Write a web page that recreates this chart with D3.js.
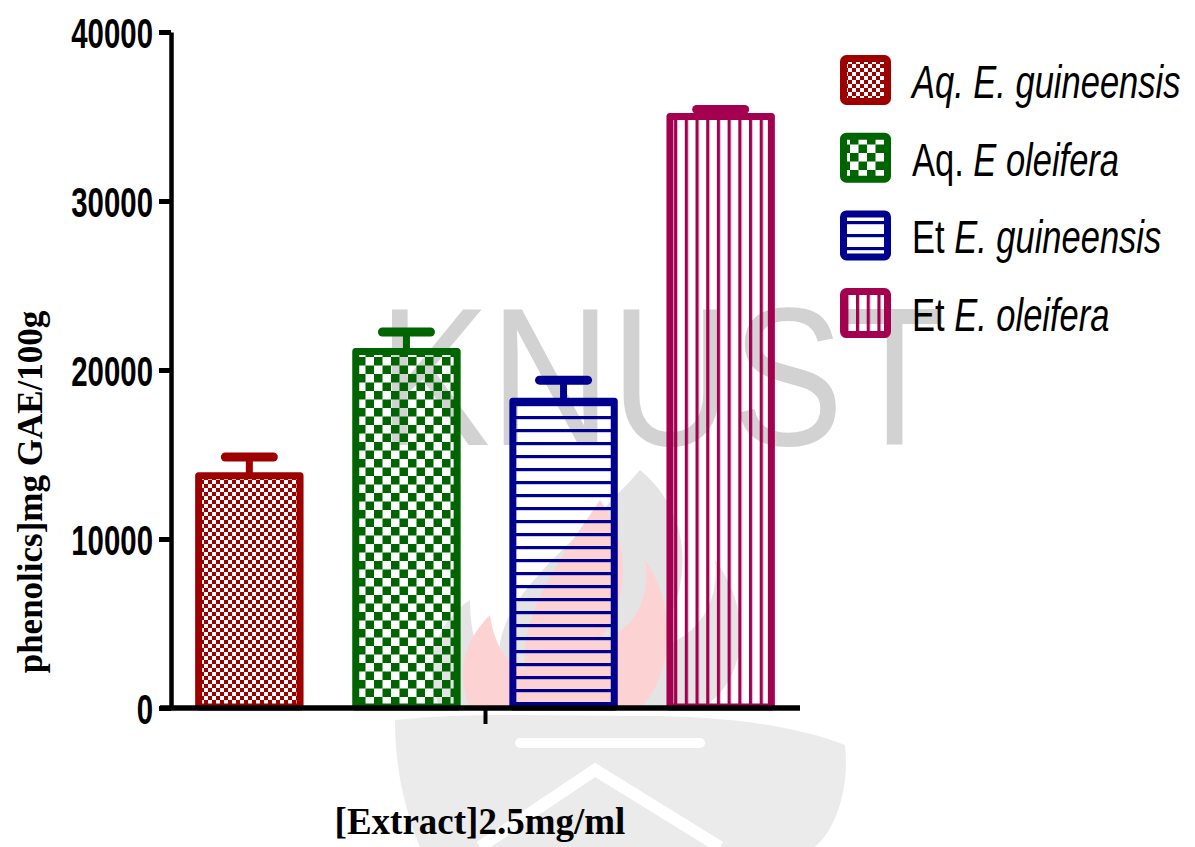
<!DOCTYPE html>
<html><head><meta charset="utf-8">
<script src="https://cdn.jsdelivr.net/npm/d3@7"></script>
<style>body{margin:0;background:#fff}svg{display:block}</style>
</head><body>
<svg id="c" width="1195" height="847"></svg>
<script>
const categories = ["Aq. E. guineensis","Aq. E oleifera","Et E. guineensis","Et E. oleifera"];
const values = [13750, 21100, 18150, 35000];
const errors = [1100, 1150, 1250, 420];
const yTicks = [0, 10000, 20000, 30000, 40000];
const xGroup = ["[Extract]2.5mg/ml"];
const colors = ["#9e0000", "#006400", "#00008f", "#a3004f"];
const patternIds = ["pRed","pGreen","pBlue","pMag"];
const legendParts = [
  [["Aq. E. guineensis", true]],
  [["Aq. ", false], ["E oleifera", true]],
  [["Et ", false], ["E. guineensis", true]],
  [["Et ", false], ["E. oleifera", true]]
];

const svg = d3.select("#c");
const SANS = "'Liberation Sans',Arial,sans-serif";
const SERIF = "'Liberation Serif','Times New Roman',serif";

// patterns
const defs = svg.append("defs");
function checker(id, c, s){
  const p = defs.append("pattern").attr("id", id).attr("patternUnits","userSpaceOnUse")
    .attr("width", 2*s).attr("height", 2*s);
  p.append("rect").attr("x",0).attr("y",0).attr("width",s).attr("height",s).attr("fill",c);
  p.append("rect").attr("x",s).attr("y",s).attr("width",s).attr("height",s).attr("fill",c);
}
checker("pRed", colors[0], 4);
checker("pGreen", colors[1], 8.5);
{
  const p = defs.append("pattern").attr("id","pBlue").attr("patternUnits","userSpaceOnUse")
    .attr("width", 20).attr("height", 13);
  p.append("rect").attr("x",0).attr("y",0).attr("width",20).attr("height",3.2).attr("fill",colors[2]);
}
{
  const p = defs.append("pattern").attr("id","pMag").attr("patternUnits","userSpaceOnUse")
    .attr("width", 10.7).attr("height", 20);
  p.append("rect").attr("x",0).attr("y",0).attr("width",3.2).attr("height",20).attr("fill",colors[3]);
}

// watermark (KNUST logo + text) behind everything
const wm = svg.append("g").attr("class","watermark");
wm.append("path")
  .attr("d","M395,720 C470,712 560,716 640,716 C720,716 790,724 845,745 C850,790 835,830 815,847 L420,847 C405,810 395,770 395,720 Z")
  .attr("fill","#ebebeb");
wm.append("rect").attr("x",515).attr("y",738).attr("width",190).attr("height",10).attr("rx",5).attr("fill","#fff");
wm.append("path").attr("d","M480,847 L595,770 L720,847").attr("fill","none").attr("stroke","#fff").attr("stroke-width",12);
wm.append("path")
  .attr("d","M640,470 C700,520 690,600 650,650 C700,640 720,600 715,560 C760,620 740,690 700,708 L440,708 C420,660 440,620 470,600 C470,640 480,660 500,670 C490,600 560,560 640,470 Z")
  .attr("fill","#e4e4e4");
wm.append("path")
  .attr("d","M600,500 C640,560 620,610 600,640 C640,630 650,590 645,560 C680,610 670,680 640,708 L470,708 C455,670 465,640 490,615 C495,650 510,665 525,670 C520,610 560,560 600,500 Z")
  .attr("fill","#fcd2d2");
wm.append("g").attr("transform","translate(662,445) scale(0.85,1)")
  .append("text").attr("x",0).attr("y",0).attr("text-anchor","middle")
  .style("font-family", SANS).style("font-size","197px")
  .attr("fill","#d2d2d2").text("KNUST");

// scales
const y = d3.scaleLinear().domain([0, 40000]).range([708, 32]);
const x = d3.scaleBand().domain(categories).range([170, 800]).paddingInner(0.31).paddingOuter(0.16);
const xg = d3.scaleBand().domain(xGroup).range([171, 800]);

// bars
const sw = 7;
svg.append("g").selectAll("rect").data(categories).join("rect")
  .attr("x", (d) => x(d) + sw/2)
  .attr("width", x.bandwidth() - sw)
  .attr("y", (d,i) => y(values[i]))
  .attr("height", (d,i) => y(0) - y(values[i]) - 1)
  .attr("fill", (d,i) => `url(#${patternIds[i]})`)
  .attr("stroke", (d,i) => colors[i]).attr("stroke-width", sw)
  .attr("stroke-linejoin","round");

// error bars
const eb = svg.append("g");
categories.forEach((d,i) => {
  const cx = x(d) + x.bandwidth()/2;
  eb.append("line").attr("x1",cx).attr("x2",cx)
    .attr("y1", y(values[i])).attr("y2", y(values[i]+errors[i]))
    .attr("stroke", colors[i]).attr("stroke-width", 7);
  eb.append("line").attr("x1",cx-24).attr("x2",cx+24)
    .attr("y1", y(values[i]+errors[i])).attr("y2", y(values[i]+errors[i]))
    .attr("stroke", colors[i]).attr("stroke-width", 9).attr("stroke-linecap","round");
});

// y axis
const ysx = 0.7;
const yAxis = svg.append("g").attr("transform","translate(171,0)")
  .call(d3.axisLeft(y).tickValues(yTicks).tickSize(12).tickSizeOuter(0).tickFormat(d3.format("d")));
yAxis.select(".domain").attr("stroke","#000").attr("stroke-width",4.5);
yAxis.selectAll(".tick line").attr("stroke","#000").attr("stroke-width",5);
yAxis.selectAll(".tick text").attr("x",-18/ysx).attr("dy","0.36em")
  .attr("transform",`scale(${ysx},1)`)
  .style("font-family", SANS).style("font-weight","bold").style("font-size","42px").attr("fill","#000");

// x axis
const xAxis = svg.append("g").attr("transform","translate(0,708)")
  .call(d3.axisBottom(xg).tickSize(16).tickSizeOuter(0).tickFormat(""));
xAxis.select(".domain").attr("d","M160,0H800").attr("stroke","#000").attr("stroke-width",5.5);
xAxis.selectAll(".tick line").attr("stroke","#000").attr("stroke-width",4);

// axis titles
svg.append("text").attr("x", 480).attr("y", 834).attr("text-anchor","middle")
  .style("font-family", SERIF).style("font-weight","bold")
  .style("font-size","37px").text(xGroup[0]);
svg.append("text").attr("transform","translate(42,492) rotate(-90)").attr("text-anchor","middle")
  .style("font-family", SERIF).style("font-weight","bold")
  .style("font-size","35px").text("phenolics]mg GAE/100g");

// legend
const lg = svg.append("g");
categories.forEach((d,i) => {
  const cy = 80 + i*77.7;
  lg.append("rect").attr("x", 843.5).attr("y", cy-21.5).attr("width", 44).attr("height", 43)
    .attr("rx",3).attr("fill", `url(#${patternIds[i]})`)
    .attr("stroke", colors[i]).attr("stroke-width", 7).attr("stroke-linejoin","round");
  const t = lg.append("g").attr("transform",`translate(912,${cy+18}) scale(0.75,1)`)
    .append("text").attr("x",0).attr("y",0)
    .style("font-family", SANS).style("font-size","46px").attr("fill","#000");
  legendParts[i].forEach(([s, it]) => {
    t.append("tspan").style("font-style", it ? "italic" : "normal").text(s);
  });
});
</script>
</body></html>
